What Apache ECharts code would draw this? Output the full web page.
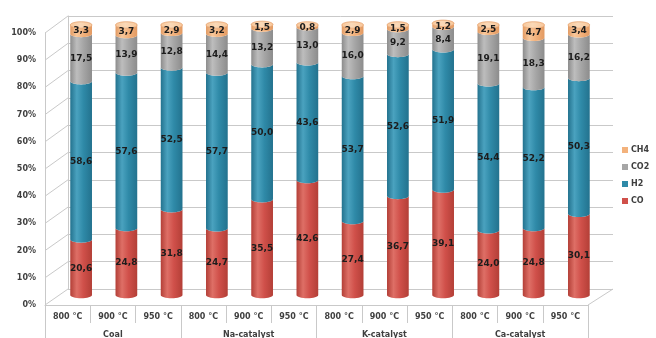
<!DOCTYPE html>
<html>
<head>
<meta charset="utf-8">
<script src="https://cdn.jsdelivr.net/npm/echarts@6/dist/echarts.min.js"></script>
<style>
  html, body { margin: 0; padding: 0; background: #ffffff; }
  #chart { width: 656px; height: 338px; }
</style>
</head>
<body>
<div id="chart"></div>
<script>
// Gas composition (vol %) for each sample and gasification temperature
const samples = ['Coal', 'Na-catalyst', 'K-catalyst', 'Ca-catalyst'];
const temperatures = ['800 °C', '900 °C', '950 °C'];
const categories = [];
samples.forEach(function () { temperatures.forEach(function (t) { categories.push(t); }); });

const CO  = [20.6, 24.8, 31.8, 24.7, 35.5, 42.6, 27.4, 36.7, 39.1, 24.0, 24.8, 30.1];
const H2  = [58.6, 57.6, 52.5, 57.7, 50.0, 43.6, 53.7, 52.6, 51.9, 54.4, 52.2, 50.3];
const CO2 = [17.5, 13.9, 12.8, 14.4, 13.2, 13.0, 16.0,  9.2,  8.4, 19.1, 18.3, 16.2];
const CH4 = [ 3.3,  3.7,  2.9,  3.2,  1.5,  0.8,  2.9,  1.5,  1.2,  2.5,  4.7,  3.4];

const yTicks = [0, 10, 20, 30, 40, 50, 60, 70, 80, 90, 100];

const FONT = 'DejaVu Sans';
const LINE = '#c9c9c9';

// cylinder shading per gas
const palette = {
  CO:  { base: '#d0504a', dark: '#b33f37', light: '#de6f66' },
  H2:  { base: '#2f8aa8', dark: '#23728e', light: '#4aa2bf' },
  CO2: { base: '#a6a6a6', dark: '#8c8c8c', light: '#bdbdbd' },
  CH4: { base: '#f3b27c', dark: '#e29a62', light: '#f8c79a', cap: '#fad9b8' }
};

function shade(p) {
  return new echarts.graphic.LinearGradient(0, 0, 1, 0, [
    { offset: 0, color: p.dark },
    { offset: 0.3, color: p.light },
    { offset: 0.6, color: p.base },
    { offset: 1, color: p.dark }
  ]);
}

function fmt(v) { return v.toFixed(1).replace('.', ','); }

function cylinderRenderer(p, withCap) {
  return function (params, api) {
    const cat = api.value(0);
    const lo = api.value(1);
    const hi = api.value(2);
    const val = api.value(3);
    const pb = api.coord([cat, lo]);
    const pt = api.coord([cat, hi]);
    const band = api.size([1, 0])[0];
    const rx = band * 0.24;
    const ry = rx * 0.3;
    const cx = pb[0];
    const yb = pb[1];
    const yt = pt[1];
    const N = 16;
    const pts = [];
    for (let i = 0; i <= N; i++) {
      const a = Math.PI * i / N;
      pts.push([cx - rx * Math.cos(a), yb + ry * Math.sin(a)]);
    }
    for (let i = 0; i <= N; i++) {
      const a = Math.PI * i / N;
      pts.push([cx + rx * Math.cos(a), yt + ry * Math.sin(a)]);
    }
    const children = [{
      type: 'polygon',
      shape: { points: pts },
      style: { fill: shade(p) }
    }];
    if (withCap) {
      children.push({
        type: 'ellipse',
        shape: { cx: cx, cy: yt, rx: rx, ry: ry },
        style: {
          fill: new echarts.graphic.LinearGradient(0, 0, 1, 0, [
            { offset: 0, color: p.light },
            { offset: 0.45, color: p.cap },
            { offset: 1, color: p.light }
          ]),
          stroke: p.dark, lineWidth: 0.4
        }
      });
    }
    children.push({
      type: 'text',
      z2: 10,
      style: {
        text: fmt(val),
        x: cx,
        y: (yb + yt) / 2 + ry * 0.4,
        align: 'center',
        verticalAlign: 'middle',
        fontFamily: FONT,
        fontWeight: 'bold',
        fontSize: 9,
        fill: '#1c1c1c'
      }
    });
    return { type: 'group', children: children };
  };
}

// stack the four gases bottom-up: CO, H2, CO2, CH4
const stackOrder = [['CO', CO], ['H2', H2], ['CO2', CO2], ['CH4', CH4]];
const running = categories.map(function () { return 0; });
const series = stackOrder.map(function (entry, k) {
  const name = entry[0];
  const vals = entry[1];
  const data = vals.map(function (v, i) {
    const lo = running[i];
    running[i] = lo + v;
    return [i, lo, lo + v, v];
  });
  return {
    name: name,
    type: 'custom',
    xAxisIndex: 3,
    yAxisIndex: 2,
    z: 5,
    clip: false,
    itemStyle: { color: palette[name].base },
    encode: { x: 0, y: [1, 2] },
    renderItem: cylinderRenderer(palette[name], k === stackOrder.length - 1),
    data: data
  };
});

const chart = echarts.init(document.getElementById('chart'), null, { renderer: 'canvas' });

const axisText = { fontFamily: FONT, fontWeight: 'bold', fontSize: 8, color: '#3f3f3f' };

chart.setOption({
  animation: false,
  backgroundColor: '#ffffff',
  grid: [
    // back wall
    { left: 68, right: 43, top: 16, bottom: 49, containLabel: false, outerBoundsMode: 'none' },
    // front axis plane
    { left: 45, right: 68, top: 33, bottom: 33, containLabel: false, outerBoundsMode: 'none' },
    // columns
    { left: 58.5, right: 54.5, top: 25, bottom: 43, containLabel: false, outerBoundsMode: 'none' }
  ],
  xAxis: [
    { gridIndex: 0, type: 'value', min: 0, max: 1, show: false },
    {
      gridIndex: 1, type: 'category', data: categories, boundaryGap: true,
      axisLine: { show: true, lineStyle: { color: LINE, width: 1 } },
      axisTick: { show: true, interval: 0, length: 18, lineStyle: { color: LINE } },
      axisLabel: Object.assign({ interval: 0, margin: 8 }, axisText)
    },
    {
      gridIndex: 1, type: 'category', data: samples, position: 'bottom', boundaryGap: true,
      axisLine: { show: false },
      axisTick: { show: true, interval: 0, length: 36, lineStyle: { color: LINE } },
      axisLabel: Object.assign({ interval: 0, margin: 26 }, axisText)
    },
    { gridIndex: 2, type: 'category', data: categories, show: false }
  ],
  yAxis: [
    {
      gridIndex: 0, type: 'value', min: 0, max: 100, interval: 10,
      axisLine: { show: true, lineStyle: { color: LINE } },
      axisTick: { show: false },
      axisLabel: { show: false },
      splitLine: { show: true, lineStyle: { color: LINE, width: 1 } }
    },
    {
      gridIndex: 1, type: 'value', min: 0, max: 100, interval: 10,
      axisLine: { show: true, lineStyle: { color: LINE } },
      axisTick: { show: false },
      splitLine: { show: false },
      axisLabel: Object.assign({ margin: 9, formatter: '{value}%' }, axisText)
    },
    { gridIndex: 2, type: 'value', min: 0, max: 100, show: false }
  ],
  legend: {
    orient: 'vertical',
    left: 617,
    top: 141,
    itemWidth: 6,
    itemHeight: 6,
    itemGap: 9,
    icon: 'rect',
    data: ['CH4', 'CO2', 'H2', 'CO'],
    textStyle: { fontFamily: FONT, fontWeight: 'bold', fontSize: 8, color: '#3f3f3f', padding: [0, 0, 0, -2] }
  },
  series: series
});

// perspective edges joining the front axis plane to the back wall
function px(finder, v) { return chart.convertToPixel(finder, v); }
const band = px({ xAxisIndex: 1 }, 1) - px({ xAxisIndex: 1 }, 0);
const frontLeft = px({ xAxisIndex: 1 }, 0) - band / 2;
const frontRight = px({ xAxisIndex: 1 }, categories.length - 1) + band / 2;
const backLeft = px({ xAxisIndex: 0 }, 0);
const backRight = px({ xAxisIndex: 0 }, 1);
const edges = yTicks.map(function (v) {
  return {
    type: 'line', z: 1, silent: true,
    shape: { x1: frontLeft, y1: px({ yAxisIndex: 1 }, v), x2: backLeft, y2: px({ yAxisIndex: 0 }, v) },
    style: { stroke: LINE, lineWidth: 1 }
  };
});
edges.push({
  type: 'line', z: 1, silent: true,
  shape: { x1: frontRight, y1: px({ yAxisIndex: 1 }, 0), x2: backRight, y2: px({ yAxisIndex: 0 }, 0) },
  style: { stroke: LINE, lineWidth: 1 }
});
chart.setOption({ graphic: edges });
</script>
</body>
</html>
